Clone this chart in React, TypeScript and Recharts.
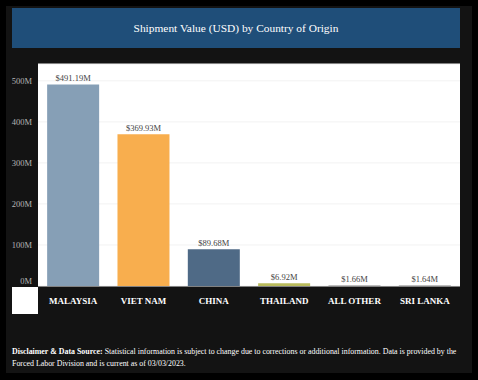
import React from "react";
import { BarChart, Bar, XAxis, YAxis, CartesianGrid, LabelList, Cell } from "recharts";

const countries = ["MALAYSIA", "VIET NAM", "CHINA", "THAILAND", "ALL OTHER", "SRI LANKA"];
const values = [491.19, 369.93, 89.68, 6.92, 1.66, 1.64];
const barColors = ["#869fb6", "#f8ae4e", "#4f6a86", "#b9bb5c", "#a9a9a9", "#a9a9a9"];
const yTicks = [0, 100, 200, 300, 400, 500];

const data = countries.map((c, i) => ({ country: c, value: values[i] }));

const serif = "'Liberation Serif', 'Times New Roman', serif";

const YTick = (props: any) => {
  const { x, y, payload } = props;
  const dy = payload.value === 0 ? -5 : 0;
  return (
    <text x={x + 2} y={y + dy} dy={3} textAnchor="end" fill="#b5b5b5" fontSize={8.5} fontFamily={serif}>
      {`${payload.value}M`}
    </text>
  );
};

const XTick = (props: any) => {
  const { x, y, payload } = props;
  return (
    <text x={x} y={y} dy={10} textAnchor="middle" fill="#ffffff" fontSize={9} fontWeight="bold" fontFamily={serif}>
      {payload.value}
    </text>
  );
};

export default function App() {
  return (
    <div style={{ position: "absolute", left: 0, top: 0, width: 478, height: 380, background: "#000", fontFamily: serif }}>
      <div style={{ position: "absolute", left: 6, top: 6, width: 466, height: 367, background: "#131313" }} />
      <div
        style={{
          position: "absolute",
          left: 12,
          top: 8,
          width: 448,
          height: 40,
          background: "#1f4e79",
          color: "#fff",
          fontSize: 11.4,
          display: "flex",
          alignItems: "center",
          justifyContent: "center",
        }}
      >
        Shipment Value (USD) by Country of Origin
      </div>
      <div style={{ position: "absolute", left: 12, top: 287, width: 26, height: 27, background: "#fff" }} />
      <div style={{ position: "absolute", left: 0, top: 0 }}>
        <BarChart
          width={478}
          height={380}
          data={data}
          margin={{ top: 64, right: 18, bottom: 66, left: 0 }}
          barCategoryGap="13%"
        >
          <CartesianGrid vertical={false} fill="#ffffff" stroke="#f2f2f2" />
          <XAxis
            dataKey="country"
            axisLine={false}
            tickLine={false}
            height={28}
            tick={<XTick />}
            interval={0}
          />
          <YAxis
            domain={[0, 541]}
            ticks={yTicks}
            width={38}
            axisLine={false}
            tickLine={false}
            tick={<YTick />}
          />
          <Bar dataKey="value" isAnimationActive={false}>
            {data.map((d, i) => (
              <Cell key={d.country} fill={barColors[i]} />
            ))}
            <LabelList
              dataKey="value"
              position="top"
              offset={3}
              fill="#444"
              fontSize={8.5}
              fontFamily={serif}
              formatter={(v: any) => `$${Number(v).toFixed(2)}M`}
            />
          </Bar>
        </BarChart>
      </div>
      <div
        style={{
          position: "absolute",
          left: 12,
          top: 346,
          color: "#fff",
          fontSize: 7.9,
          lineHeight: "12px",
          whiteSpace: "nowrap",
        }}
      >
        <span style={{ fontWeight: "bold" }}>Disclaimer &amp; Data Source:</span>
        <span> Statistical information is subject to change due to corrections or additional information. Data is provided by the</span>
      </div>
      <div
        style={{
          position: "absolute",
          left: 12,
          top: 358,
          color: "#fff",
          fontSize: 7.9,
          lineHeight: "12px",
          whiteSpace: "nowrap",
        }}
      >
        Forced Labor Division and is current as of 03/03/2023.
      </div>
    </div>
  );
}
